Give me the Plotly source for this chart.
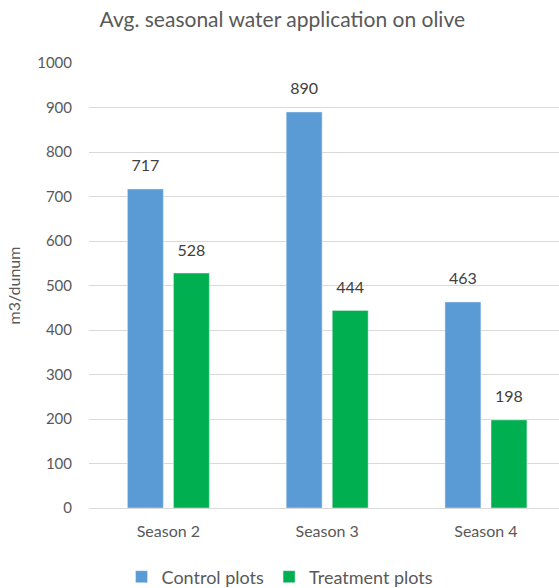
import plotly.graph_objects as go

seasons = ["Season 2", "Season 3", "Season 4"]
control = [717, 890, 463]
treatment = [528, 444, 198]
y_ticks = list(range(0, 1001, 100))

font_family = "Lato, 'Open Sans', sans-serif"
label_font = dict(size=16, color="#404040", family=font_family)

fig = go.Figure()
for name, values, color in [("Control plots", control, "#5B9BD5"),
                            ("Treatment plots", treatment, "#00B050")]:
    fig.add_trace(go.Bar(
        name=name, x=seasons, y=values, offsetgroup=name,
        marker=dict(color=color),
    ))
    # value labels, grouped with the bars so each sits over its own bar
    fig.add_trace(go.Scatter(
        x=seasons, y=values, offsetgroup=name, mode="markers+text",
        text=[str(v) for v in values], textposition="top center",
        textfont=label_font, marker=dict(size=20, opacity=0),
        showlegend=False, hoverinfo="skip", cliponaxis=False,
    ))

fig.update_layout(
    width=559, height=588,
    margin=dict(l=89, r=0, t=63, b=80),
    paper_bgcolor="white", plot_bgcolor="white",
    barmode="group", bargap=0.42, bargroupgap=0.22,
    scattermode="group", scattergap=0.42,
    font=dict(family=font_family, color="#595959", size=15),
    title=dict(text="Avg. seasonal water application on olive",
               xref="container", x=0.505, xanchor="center", y=0.966, yanchor="middle",
               font=dict(size=21, color="#595959", family=font_family)),
    legend=dict(orientation="h", xref="container", yref="container",
                x=0.501, xanchor="center", y=(588 - 577) / 588, yanchor="middle",
                font=dict(size=18, color="#595959"), itemwidth=30,
                traceorder="normal"),
)
fig.update_xaxes(range=[-0.5, 2.46], showgrid=False, showline=True,
                 linecolor="#D9D9D9", linewidth=1, ticks="", automargin=False,
                 ticklabelstandoff=9,
                 tickfont=dict(size=16, color="#595959"))
fig.update_yaxes(range=[0, 1000], tickvals=y_ticks, showgrid=True,
                 gridcolor="#D9D9D9", gridwidth=1, zeroline=False,
                 ticks="", ticklabelstandoff=16, automargin=False,
                 tickfont=dict(size=15, color="#595959"),
                 title=dict(text="m3/dunum", font=dict(size=16, color="#595959"), standoff=12))

fig.write_html("out.html")
